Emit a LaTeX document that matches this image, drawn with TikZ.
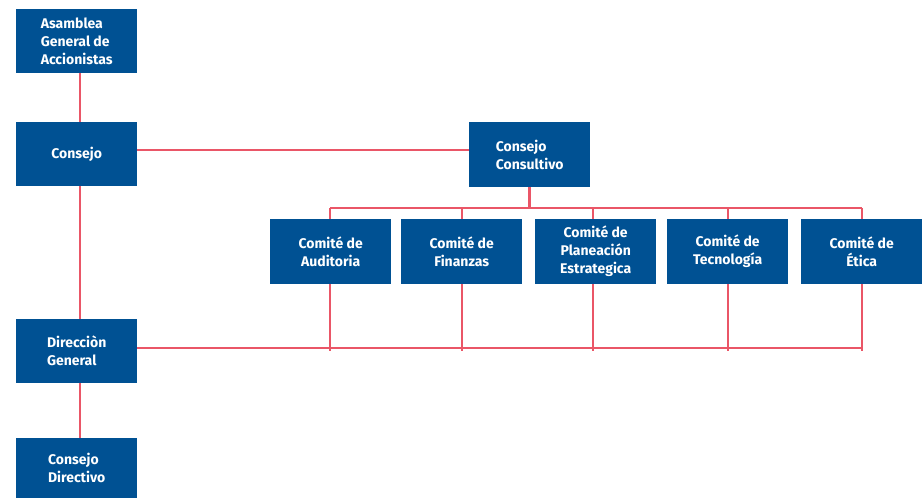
\documentclass[tikz,border=0pt]{standalone}
\usepackage{fontspec}
\setmainfont{Fira Sans}
\definecolor{boxblue}{RGB}{0,81,147}
\definecolor{linkred}{RGB}{234,86,103}
\begin{document}
\begin{tikzpicture}[x=1pt,y=-1pt,
  orgbox/.style={fill=boxblue,text=white,font=\bfseries\fontsize{14}{18}\selectfont,
    minimum width=121pt,minimum height=64pt,inner sep=0pt,anchor=north west},
  lbox/.style={orgbox,align=left},
  cbox/.style={orgbox,align=center},
  link/.style={draw=linkred,line width=2.8pt}]
\useasboundingbox (0,0) rectangle (923,498);
% left column
\node[lbox] (asam) at (16,9) {Asamblea\\General de\\Accionistas};
\node[lbox] (cons) at (16,122) {Consejo};
\node[lbox] (dir) at (16,319) {Direcciòn\\General};
\node[lbox,minimum height=60pt] (cdir) at (16,438) {Consejo\\Directivo};
% consultivo
\node[lbox,minimum height=65pt] (cc) at (469,122) {Consejo\\Consultivo};
% committees
\node[cbox,minimum height=65pt] (c1) at (270,219) {Comité de\\Auditoria};
\node[cbox,minimum height=65pt] (c2) at (401,219) {Comité de\\Finanzas};
\node[cbox,minimum height=65pt] (c3) at (535,219) {Comité de\\Planeación\\Estrategica};
\node[cbox,minimum height=65pt] (c4) at (667,219) {Comité de\\Tecnología};
\node[cbox,minimum height=65pt] (c5) at (801,219) {Comité de\\Ética};
% helper coordinates
\coordinate (colx) at (80,0);
\coordinate (tb1) at (330,208);
\coordinate (tb5) at (862,208);
\coordinate (bb5) at (862,348);
\coordinate (y150) at (0,150);
% connectors
\draw[link] (asam.south -| colx) -- (cons.north -| colx);
\draw[link] (cons.south -| colx) -- (dir.north -| colx);
\draw[link] (dir.south -| colx) -- (cdir.north -| colx);
\draw[link] (cons.east |- y150) -- (cc.west |- y150);
\draw[link] (cc.south) -- (cc.south |- tb1);
\draw[link] (tb1) -- (tb5);
\draw[link] (dir.east |- bb5) -- (bb5);
\foreach \c/\xx in {c1/330,c2/462,c3/593,c4/728,c5/862}{
  \draw[link] (\xx,208) -- (\c.north -| \xx,0);
  \draw[link] (\c.south -| \xx,0) -- (\xx,351);
}
\end{tikzpicture}
\end{document}
